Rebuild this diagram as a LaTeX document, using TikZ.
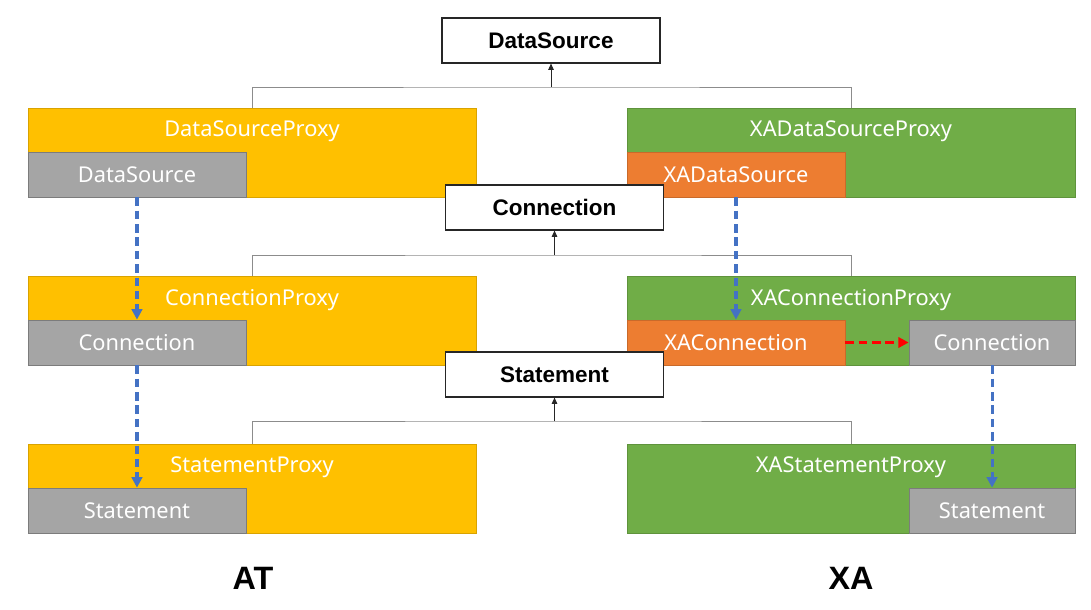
\documentclass[tikz,border=0pt]{standalone}
\usepackage{fontspec}
\setsansfont{Noto Sans}
\newfontfamily\headsans{Liberation Sans}
\usetikzlibrary{arrows.meta, positioning}

\definecolor{atyellow}{HTML}{FFC000}
\definecolor{xagreen}{HTML}{70AD47}
\definecolor{xaorange}{HTML}{ED7D31}
\definecolor{wrapgray}{HTML}{A5A5A5}
\definecolor{flowblue}{HTML}{4472C4}

\begin{document}
\begin{tikzpicture}[
    x=0.025cm,
    y=-0.025cm,
    font=\sffamily,
    proxy/.style={
        rectangle,
        minimum width=11.2cm,
        minimum height=2.225cm,
        inner sep=0pt,
        line width=0.5pt
    },
    atproxy/.style={proxy, fill=atyellow, draw=atyellow!85!black},
    xaproxy/.style={proxy, fill=xagreen, draw=xagreen!85!black},
    proxylabel/.style={
        text=white,
        font=\sffamily\fontsize{15.5}{18}\selectfont
    },
    inner/.style={
        rectangle,
        minimum width=5.45cm,
        minimum height=1.125cm,
        inner sep=0pt,
        line width=0.5pt,
        text=white,
        font=\sffamily\fontsize{15.5}{18}\selectfont
    },
    wrapped/.style={inner, fill=wrapgray, draw=wrapgray!75!black},
    xares/.style={inner, fill=xaorange, draw=xaorange!85!black},
    iface/.style={
        rectangle,
        draw=black!85,
        fill=white,
        line width=0.8pt,
        minimum width=5.45cm,
        minimum height=1.125cm,
        inner sep=0pt,
        font=\headsans\bfseries\fontsize{16}{19}\selectfont
    },
    hub/.style={draw=black!45, line width=0.6pt},
    implarrow/.style={-{Triangle[length=1.6mm, width=1.4mm]}, draw=black!85, line width=0.6pt},
    flow/.style={
        -{Triangle[length=2.6mm, width=2.6mm]},
        line width=2.2pt,
        dash pattern=on 6pt off 3.5pt
    },
    side/.style={font=\headsans\bfseries\fontsize{23}{27}\selectfont}
]
    \useasboundingbox (0,0) rectangle (1091,610);

    % proxies
    \node [atproxy] (dsp) at (252,152.5) {};
    \node [xaproxy] (xadsp) at (851,152.5) {};
    \node [atproxy] (cp) at (252,320.5) {};
    \node [xaproxy] (xacp) at (851,320.5) {};
    \node [atproxy] (sp) at (252,488.5) {};
    \node [xaproxy] (xasp) at (851,488.5) {};

    \node [proxylabel] at ([yshift=-0.6cm]dsp.north) {DataSourceProxy};
    \node [proxylabel] at ([yshift=-0.6cm]xadsp.north) {XADataSourceProxy};
    \node [proxylabel] at ([yshift=-0.6cm]cp.north) {ConnectionProxy};
    \node [proxylabel] at ([yshift=-0.6cm]xacp.north) {XAConnectionProxy};
    \node [proxylabel] at ([yshift=-0.6cm]sp.north) {StatementProxy};
    \node [proxylabel] at ([yshift=-0.6cm]xasp.north) {XAStatementProxy};

    % wrapped objects
    \node [wrapped, anchor=south west] (ds1) at (dsp.south west) {DataSource};
    \node [xares, anchor=south west] (xads1) at (xadsp.south west) {XADataSource};
    \node [wrapped, anchor=south west] (c1) at (cp.south west) {Connection};
    \node [xares, anchor=south west] (xac1) at (xacp.south west) {XAConnection};
    \node [wrapped, anchor=south east, minimum width=4.15cm] (rc1) at (xacp.south east) {Connection};
    \node [wrapped, anchor=south west] (s1) at (sp.south west) {Statement};
    \node [wrapped, anchor=south east, minimum width=4.15cm] (rs1) at (xasp.south east) {Statement};

    % interfaces
    \coordinate (j1) at (551,87);
    \coordinate (j2) at (554.5,255);
    \coordinate (j3) at (554.5,421);
    \draw [hub] (dsp.north) |- (j1) -| (xadsp.north);
    \draw [hub] (cp.north) |- (j2) -| (xacp.north);
    \draw [hub] (sp.north) |- (j3) -| (xasp.north);

    \node [iface] (ds) at (551,40.5) {DataSource};
    \node [iface] (conn) at (554.5,207.5) {Connection};
    \node [iface] (stmt) at (554.5,374.5) {Statement};

    \draw [implarrow] (j1) -- (ds);
    \draw [implarrow] (j2) -- (conn);
    \draw [implarrow] (j3) -- (stmt);

    % call flow
    \draw [flow, flowblue] (ds1) -- (c1);
    \draw [flow, flowblue] (c1) -- (s1);
    \draw [flow, flowblue] (xads1) -- (xac1);
    \draw [flow, flowblue] (rc1) -- (rs1);
    \draw [flow, red] (xac1) -- (rc1);

    \node [side] (at) at (253,578) {AT};
    \node [side] (xa) at (851,578) {XA};
\end{tikzpicture}
\end{document}
